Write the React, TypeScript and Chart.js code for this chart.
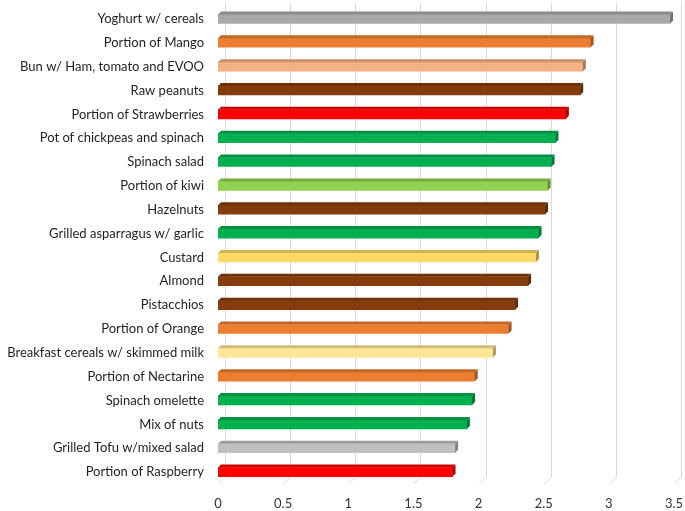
import React, { useEffect, useRef } from "react";
import { Chart, registerables } from "chart.js";

Chart.register(...registerables);

const categories = [
  "Yoghurt w/ cereals",
  "Portion of Mango",
  "Bun w/ Ham, tomato and EVOO",
  "Raw peanuts",
  "Portion of Strawberries",
  "Pot of chickpeas and spinach",
  "Spinach salad",
  "Portion of kiwi",
  "Hazelnuts",
  "Grilled asparragus w/ garlic",
  "Custard",
  "Almond",
  "Pistacchios",
  "Portion of Orange",
  "Breakfast cereals w/ skimmed milk",
  "Portion of Nectarine",
  "Spinach omelette",
  "Mix of nuts",
  "Grilled Tofu w/mixed salad",
  "Portion of Raspberry",
];

const values = [
  3.47, 2.86, 2.8, 2.78, 2.67, 2.59, 2.56, 2.53, 2.51, 2.46, 2.44, 2.38, 2.28,
  2.23, 2.11, 1.97, 1.95, 1.91, 1.82, 1.8,
];

const barColors = [
  "#ABA8A8",
  "#ED7D31",
  "#F4B183",
  "#843C0C",
  "#FF0000",
  "#00B050",
  "#00B050",
  "#92D050",
  "#843C0C",
  "#00B050",
  "#FFD966",
  "#843C0C",
  "#843C0C",
  "#ED7D31",
  "#FFE699",
  "#ED7D31",
  "#00B050",
  "#00B050",
  "#BFBFBF",
  "#FF0000",
];

const xTicks = [0, 0.5, 1, 1.5, 2, 2.5, 3, 3.5];
const xTickLabels = ["0", "0.5", "1", "1.5", "2", "2.5", "3", "3.5"];

function shade(hex: string, f: number): string {
  const n = parseInt(hex.slice(1), 16);
  const r = Math.round(((n >> 16) & 255) * f);
  const g = Math.round(((n >> 8) & 255) * f);
  const b = Math.round((n & 255) * f);
  return `rgb(${r},${g},${b})`;
}

const DEPTH = 3;

const gridPlugin = {
  id: "wallGrid",
  beforeDatasetsDraw(chart: any) {
    const { ctx, chartArea, scales } = chart;
    const xs = scales.x;
    ctx.save();
    ctx.strokeStyle = "#D9D9D9";
    ctx.lineWidth = 1;
    xTicks.forEach((v) => {
      const px = Math.round(xs.getPixelForValue(v)) + 0.5;
      ctx.beginPath();
      ctx.moveTo(px + 7, chartArea.top - 4);
      ctx.lineTo(px + 7, chartArea.bottom - 7);
      ctx.lineTo(px, chartArea.bottom);
      ctx.stroke();
    });
    ctx.restore();
  },
};

const bar3dPlugin = {
  id: "bar3d",
  afterDatasetsDraw(chart: any) {
    const { ctx } = chart;
    const meta = chart.getDatasetMeta(0);
    ctx.save();
    meta.data.forEach((bar: any, i: number) => {
      const { x, y, base, height } = bar.getProps(["x", "y", "base", "height"], true);
      const top = y - height / 2;
      const bottom = y + height / 2;
      const c = barColors[i];
      ctx.fillStyle = shade(c, 0.82);
      ctx.beginPath();
      ctx.moveTo(base, top);
      ctx.lineTo(base + DEPTH, top - DEPTH);
      ctx.lineTo(x + DEPTH, top - DEPTH);
      ctx.lineTo(x, top);
      ctx.closePath();
      ctx.fill();
      ctx.fillStyle = shade(c, 0.68);
      ctx.beginPath();
      ctx.moveTo(x, top);
      ctx.lineTo(x + DEPTH, top - DEPTH);
      ctx.lineTo(x + DEPTH, bottom - DEPTH);
      ctx.lineTo(x, bottom);
      ctx.closePath();
      ctx.fill();
    });
    ctx.restore();
  },
};

export default function App() {
  const ref = useRef<HTMLCanvasElement | null>(null);

  useEffect(() => {
    if (!ref.current) return;
    const chart = new Chart(ref.current, {
      type: "bar",
      data: {
        labels: categories,
        datasets: [
          {
            data: values,
            backgroundColor: barColors,
            borderWidth: 0,
            barThickness: 9,
          },
        ],
      },
      options: {
        indexAxis: "y",
        animation: false,
        responsive: false,
        maintainAspectRatio: false,
        layout: { padding: { top: 7, right: 11, left: 0, bottom: 0 } },
        plugins: {
          legend: { display: false },
          tooltip: { enabled: false },
        },
        scales: {
          x: {
            min: 0,
            max: 3.5,
            ticks: {
              stepSize: 0.5,
              color: "#333333",
              padding: 12,
              font: { family: "Lato", size: 13 },
              callback: (_v: any, i: number) => xTickLabels[i],
            },
            grid: { display: false, drawTicks: false },
            border: { display: false },
            afterFit: (s: any) => {
              s.height = 27;
              s.paddingLeft = 0;
              s.paddingRight = 0;
            },
          },
          y: {
            ticks: {
              color: "#1F1F1F",
              padding: 14,
              font: { family: "Lato", size: 13 },
            },
            grid: { display: false, drawTicks: false },
            border: { display: false },
            afterFit: (s: any) => {
              s.width = 218;
              s.paddingTop = 0;
              s.paddingBottom = 0;
            },
          },
        },
      },
      plugins: [gridPlugin, bar3dPlugin],
    });
    return () => chart.destroy();
  }, []);

  return (
    <div style={{ position: "fixed", left: 0, top: 0, width: 685, height: 511, background: "#fff" }}>
      <canvas ref={ref} width={685} height={511} style={{ width: 685, height: 511 }} />
    </div>
  );
}
